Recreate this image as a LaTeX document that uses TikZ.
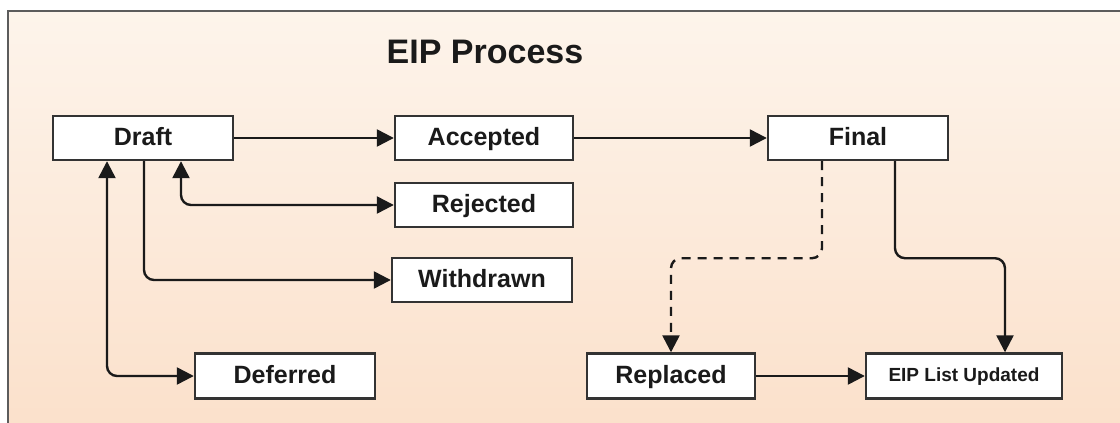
\documentclass[tikz,border=0pt]{standalone}
\usepackage{fontspec}
\setmainfont{Liberation Sans}
\usetikzlibrary{arrows.meta}
\definecolor{bgtop}{HTML}{FDF4EB}
\definecolor{bgbot}{HTML}{FBE0CA}
\definecolor{edge}{HTML}{333333}
\definecolor{ink}{HTML}{1A1A1A}
\begin{document}
\begin{tikzpicture}[x=1pt,y=-1pt,
  box/.style={draw=edge,line width=2.4pt,fill=white,text=ink,
    font=\bfseries\fontsize{25}{30}\selectfont,inner sep=0pt,
    text height=18pt,text depth=4pt,minimum height=44pt},
  conn/.style={draw=ink,line width=2.4pt,rounded corners=10pt,
    -{Triangle[length=17pt,width=17pt]}},
  both/.style={{Triangle[length=17pt,width=17pt]}-{Triangle[length=17pt,width=17pt]}},
  dashline/.style={dash pattern=on 9pt off 7pt}
]
\useasboundingbox (0,0) rectangle (1120,423);
\clip (0,0) rectangle (1120,423);
\fill[white] (0,0) rectangle (1120,423);
\shade[top color=bgtop,bottom color=bgbot] (8,11) rectangle (1140,440);
\draw[edge!80,line width=2.4pt] (8,440) -- (8,11) -- (1140,11);

\node[font=\bfseries\fontsize{34}{40}\selectfont,text=ink] (title) at (485,52) {EIP Process};

\node[box,minimum width=180pt] (draft) at (143,138) {Draft};
\node[box,minimum width=178pt] (accepted) at (484,138) {Accepted};
\node[box,minimum width=178pt] (rejected) at (484,205) {Rejected};
\node[box,minimum width=180pt] (withdrawn) at (482,280) {Withdrawn};
\node[box,minimum width=180pt] (final) at (858,138) {Final};
\node[box,minimum width=180pt,minimum height=45pt] (deferred) at (285,376) {Deferred};
\node[box,minimum width=168pt,minimum height=45pt] (replaced) at (671,376) {Replaced};
\node[box,minimum width=196pt,minimum height=45pt,font=\bfseries\fontsize{19}{23}\selectfont,text height=14pt,text depth=4pt] (eip) at (964,376) {EIP List Updated};

\draw[conn] (draft) -- (accepted);
\draw[conn] (accepted) -- (final);
\draw[conn,both] ([xshift=38pt]draft.south) |- (rejected.west);
\draw[conn] ([xshift=1pt]draft.south) |- (withdrawn.west);
\draw[conn,both] ([xshift=-36pt]draft.south) |- (deferred.west);
\draw[conn,dashline] ([xshift=-36pt]final.south) -- ++(0,97) -| (replaced.north);
\draw[conn] ([xshift=37pt]final.south) -- ++(0,97) -| ([xshift=41pt]eip.north);
\draw[conn] (replaced) -- (eip);
\end{tikzpicture}
\end{document}
